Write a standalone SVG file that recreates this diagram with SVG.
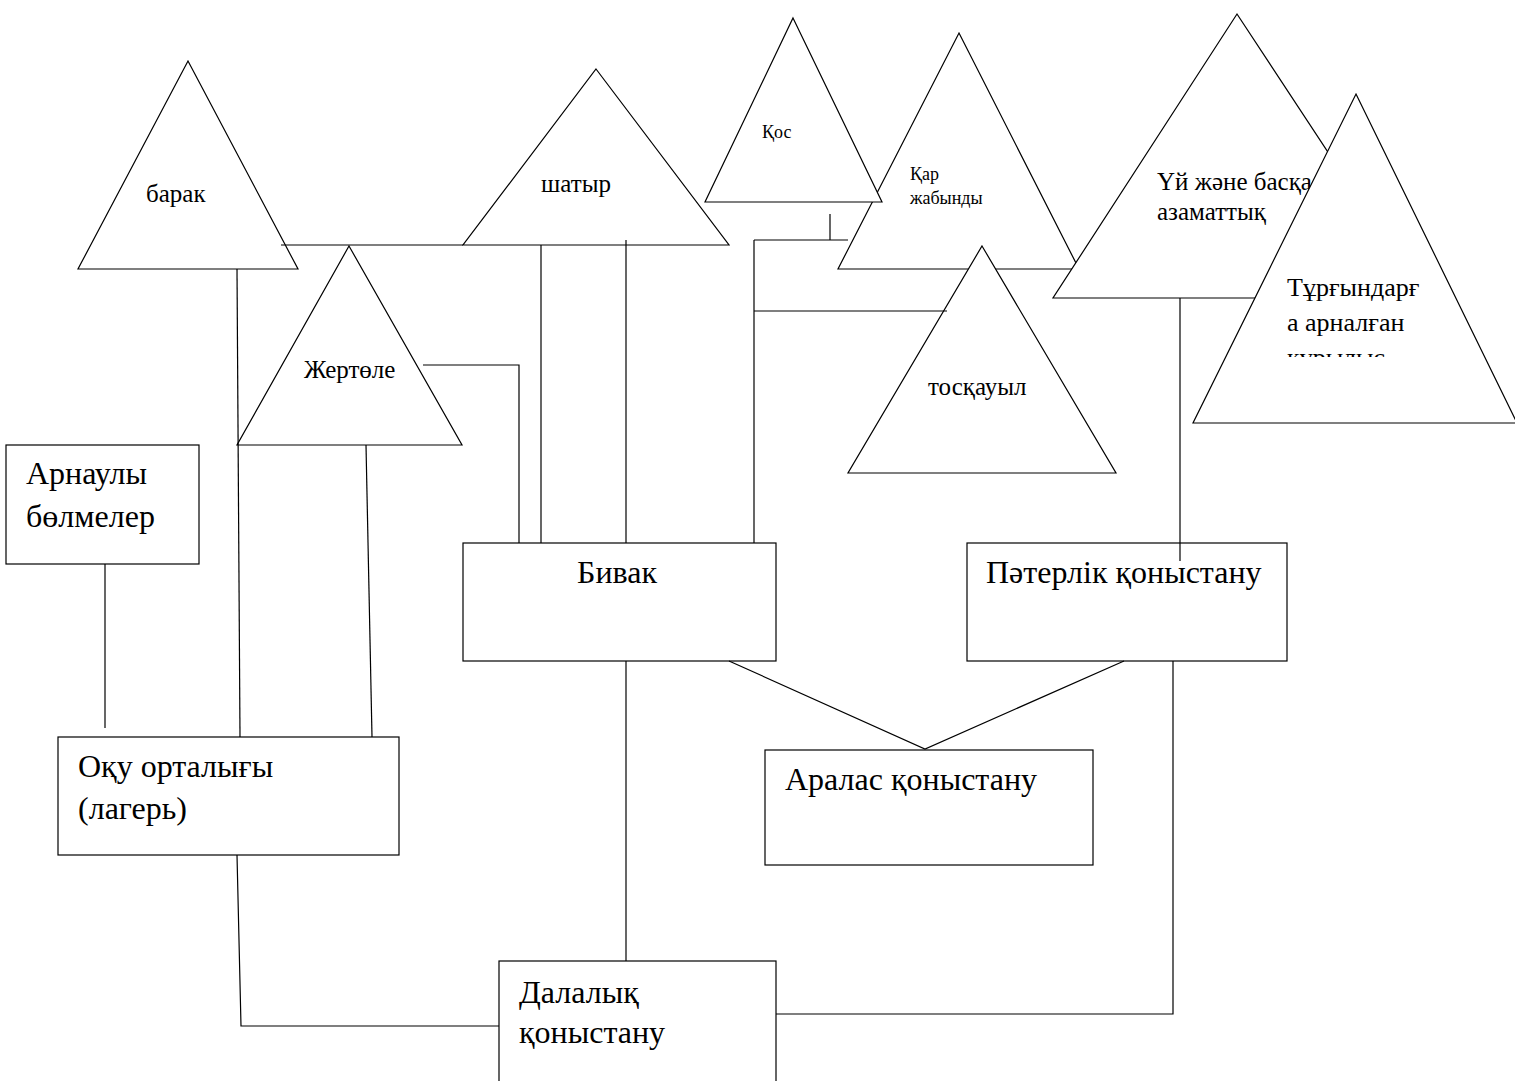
<svg xmlns="http://www.w3.org/2000/svg" width="1515" height="1081" viewBox="0 0 1515 1081">
<defs>
<style>
.shape{fill:#fff;stroke:#000;stroke-width:1.2}
.conn{fill:none;stroke:#000;stroke-width:1.2}
.t{font-family:"Liberation Serif","Times New Roman",serif;fill:#000}
.big{font-size:32px}
.mid{font-size:25px}
.sm{font-size:18px}
</style>
<clipPath id="clipT"><rect x="1190" y="250" width="330" height="107"/></clipPath>
</defs>
<rect width="1515" height="1081" fill="#fff"/>
<g id="node-barak">
<polygon class="shape" points="188,61 298,269 78,269"/>
<text class="t mid" x="146" y="202">барак</text>
</g>
<g id="node-shatyr">
<polygon class="shape" points="596,69 729,245 463,245"/>
<text class="t mid" x="541" y="192">шатыр</text>
</g>
<g id="node-zhertole">
<polygon class="shape" points="349,246 462,445 237,445"/>
<text class="t mid" x="304" y="378">Жертөле</text>
</g>
<g id="node-qar">
<polygon class="shape" points="959,33 1079,269 838,269"/>
<text class="t sm" x="910" y="180">Қар</text>
<text class="t sm" x="910" y="204">жабынды</text>
</g>
<g id="node-qos">
<polygon class="shape" points="793,18 882,202 705,202"/>
<text class="t sm" x="762" y="138">Қос</text>
</g>
<g id="node-toskauyl">
<polygon class="shape" points="982,246 1116,473 848,473"/>
<text class="t mid" x="928" y="395">тосқауыл</text>
</g>
<g id="node-uy">
<polygon class="shape" points="1237,14 1424,298 1053,298"/>
<text class="t mid" x="1157" y="190">Үй және басқа</text>
<text class="t mid" x="1157" y="220">азаматтық</text>
</g>
<g id="node-turgyndarga">
<polygon class="shape" points="1356,94 1517,423 1193,423"/>
<g clip-path="url(#clipT)">
<text class="t" font-size="26" x="1287" y="296">Тұрғындарғ</text>
<text class="t" font-size="26" x="1287" y="331">а арналған</text>
<text class="t" font-size="26" x="1287" y="366">құрылыс</text>
</g>
</g>
<g id="node-arnauly">
<rect class="shape" x="6" y="445" width="193" height="119"/>
<text class="t big" x="26" y="484">Арнаулы</text>
<text class="t big" x="26" y="527">бөлмелер</text>
</g>
<g id="node-oku">
<rect class="shape" x="58" y="737" width="341" height="118"/>
<text class="t big" x="78" y="777">Оқу орталығы</text>
<text class="t big" x="78" y="819">(лагерь)</text>
</g>
<g id="node-bivak">
<rect class="shape" x="463" y="543" width="313" height="118"/>
<text class="t big" x="577" y="583">Бивак</text>
</g>
<g id="node-paterlik">
<rect class="shape" x="967" y="543" width="320" height="118"/>
<text class="t big" x="986" y="583">Пәтерлік қоныстану</text>
</g>
<g id="node-aralas">
<rect class="shape" x="765" y="750" width="328" height="115"/>
<text class="t big" x="785" y="790">Аралас қоныстану</text>
</g>
<g id="node-dalalyq">
<rect class="shape" x="499" y="961" width="277" height="130"/>
<text class="t big" x="519" y="1003">Далалық</text>
<text class="t big" x="519" y="1043">қоныстану</text>
</g>
<g id="connectors">
<path class="conn" d="M281,245 H463"/>
<path class="conn" d="M237,269 L240,737"/>
<path class="conn" d="M366,445 L372,737"/>
<path class="conn" d="M423,365 H519 V543"/>
<path class="conn" d="M541,245 V543"/>
<path class="conn" d="M626,240 V543"/>
<path class="conn" d="M830,214 V240"/>
<path class="conn" d="M754,240 H848"/>
<path class="conn" d="M754,240 V543"/>
<path class="conn" d="M754,311 H947"/>
<path class="conn" d="M1180,298 V561"/>
<path class="conn" d="M729,661 L925,749 L1124,661"/>
<path class="conn" d="M1173,661 V1014 H776"/>
<path class="conn" d="M626,661 V961"/>
<path class="conn" d="M237,855 L241,1026 H499"/>
<path class="conn" d="M105,564 V728"/>
</g>
</svg>
